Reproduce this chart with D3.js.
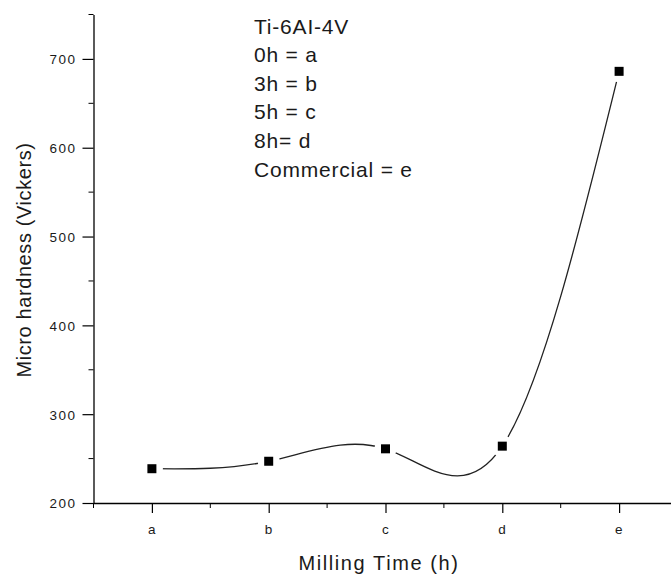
<!DOCTYPE html>
<html>
<head>
<meta charset="utf-8">
<script src="https://cdn.jsdelivr.net/npm/d3@7"></script>
<style>
  body { margin: 0; background: #fff; }
  text { font-family: Arial, "Liberation Sans", sans-serif; fill: #1a1a1a; }
</style>
</head>
<body>
<div id="chart"></div>
<script>
const canvas = { w: 671, h: 577 };

// data
const categories = ["a", "b", "c", "d", "e"];
const hardness = [238.6, 247, 261, 264, 686];
const legendLines = ["Ti-6AI-4V", "0h = a", "3h = b", "5h = c", "8h= d", "Commercial = e"];
const yTicks = [200, 300, 400, 500, 600, 700];
const yMinor = [250, 350, 450, 550, 650, 750];

const x = d3.scaleLinear().domain([0.5, 5.5]).range([93.5, 677.5]);
const y = d3.scaleLinear().domain([200, 750]).range([503, 14.5]);

const svg = d3.select("#chart")
  .append("svg")
  .attr("width", canvas.w)
  .attr("height", canvas.h);

const g = svg.append("g");

// curve
const line = d3.line()
  .x((d, i) => x(i + 1))
  .y(d => y(d))
  .curve(d3.curveNatural);

g.append("path")
  .datum(hardness)
  .attr("fill", "none")
  .attr("stroke", "#222")
  .attr("stroke-width", 1.3)
  .attr("d", line);

// gap around each marker
g.selectAll("circle.gap")
  .data(hardness)
  .enter()
  .append("circle")
  .attr("class", "gap")
  .attr("cx", (d, i) => x(i + 1))
  .attr("cy", d => y(d))
  .attr("r", 11)
  .attr("fill", "#fff");

g.selectAll("rect.pt")
  .data(hardness)
  .enter()
  .append("rect")
  .attr("class", "pt")
  .attr("x", (d, i) => x(i + 1) - 4.5)
  .attr("y", d => y(d) - 4.5)
  .attr("width", 9)
  .attr("height", 9)
  .attr("fill", "#000");

// y axis
const yAxis = d3.axisLeft(y)
  .tickValues(yTicks)
  .tickSize(11)
  .tickPadding(6)
  .tickSizeOuter(0);

const yG = g.append("g")
  .attr("transform", `translate(${x(0.5)},0)`)
  .call(yAxis);

yG.append("g").selectAll("line")
  .data(yMinor)
  .enter()
  .append("line")
  .attr("x1", -5).attr("x2", 0)
  .attr("y1", d => y(d)).attr("y2", d => y(d))
  .attr("stroke", "#000");

// x axis
const xAxis = d3.axisBottom(x)
  .tickValues(d3.range(1, 6))
  .tickFormat(d => categories[d - 1])
  .tickSize(10)
  .tickPadding(11)
  .tickSizeOuter(0);

const xG = g.append("g")
  .attr("transform", `translate(0,${y(200)})`)
  .call(xAxis);

xG.append("g").selectAll("line")
  .data(d3.range(0.5, 6, 1))
  .enter()
  .append("line")
  .attr("x1", d => x(d)).attr("x2", d => x(d))
  .attr("y1", 0).attr("y2", 5)
  .attr("stroke", "#000");

svg.selectAll(".domain").attr("stroke", "#000").attr("stroke-width", 1.3);
svg.selectAll(".tick line").attr("stroke", "#000").attr("stroke-width", 1.2);
svg.selectAll(".tick text")
  .style("font-family", "Arial, 'Liberation Sans', sans-serif")
  .style("font-size", "13.5px")
  .style("letter-spacing", "1.5px")
  .attr("fill", "#1a1a1a");
yG.selectAll(".tick text").attr("dy", "0.36em");

// axis titles
svg.append("text")
  .attr("x", 379)
  .attr("y", 570)
  .attr("text-anchor", "middle")
  .style("font-size", "20px")
  .style("letter-spacing", "1.6px")
  .text("Milling Time (h)");

svg.append("text")
  .attr("transform", "translate(31,260) rotate(-90)")
  .attr("text-anchor", "middle")
  .style("font-size", "20px")
  .style("letter-spacing", "0.6px")
  .text("Micro hardness (Vickers)");

// legend block
svg.append("g").selectAll("text")
  .data(legendLines)
  .enter()
  .append("text")
  .attr("x", 254)
  .attr("y", (d, i) => 33.5 + i * 28.6)
  .style("font-size", "21px")
  .style("letter-spacing", "0.8px")
  .text(d => d);
</script>
</body>
</html>
